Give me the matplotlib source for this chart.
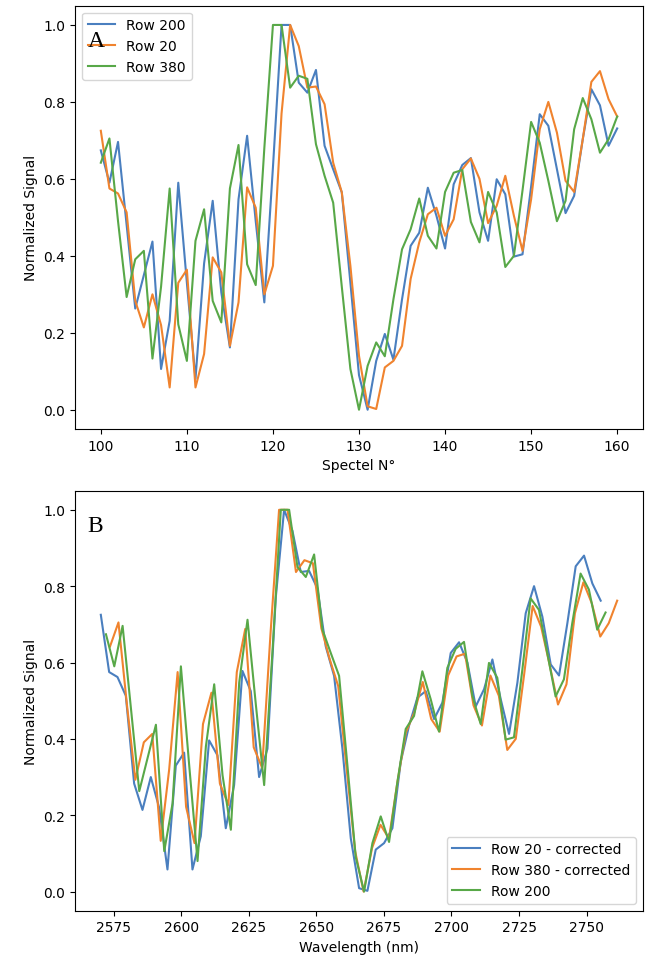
import matplotlib
matplotlib.use("Agg")
import matplotlib.pyplot as plt
import numpy as np

spectel = np.arange(100, 161)

# normalized signal per spectel (100..160)
row200 = [0.674, 0.59, 0.696, 0.48, 0.263, 0.35, 0.437, 0.106, 0.231, 0.59,
          0.33, 0.08, 0.38, 0.543, 0.305, 0.162, 0.547, 0.712, 0.49, 0.279,
          0.63, 1.0, 1.0, 0.85, 0.824, 0.883, 0.686, 0.625, 0.565, 0.33,
          0.09, 0.0, 0.127, 0.197, 0.13, 0.287, 0.426, 0.46, 0.577, 0.504,
          0.419, 0.586, 0.636, 0.654, 0.513, 0.439, 0.599, 0.56, 0.398, 0.404,
          0.58, 0.768, 0.738, 0.625, 0.511, 0.556, 0.703, 0.833, 0.791, 0.686,
          0.731]
row20 = [0.725, 0.575, 0.562, 0.513, 0.283, 0.214, 0.30, 0.22, 0.058, 0.33,
         0.364, 0.058, 0.145, 0.396, 0.357, 0.166, 0.279, 0.578, 0.525, 0.30,
         0.374, 0.77, 1.0, 0.945, 0.837, 0.84, 0.794, 0.642, 0.565, 0.374,
         0.14, 0.009, 0.002, 0.11, 0.127, 0.166, 0.34, 0.435, 0.508, 0.525,
         0.452, 0.495, 0.625, 0.653, 0.6, 0.485, 0.53, 0.608, 0.504, 0.413,
         0.547, 0.729, 0.80, 0.72, 0.595, 0.566, 0.703, 0.852, 0.88, 0.807,
         0.762]
row380 = [0.642, 0.705, 0.49, 0.293, 0.391, 0.413, 0.133, 0.32, 0.575, 0.222,
          0.127, 0.439, 0.521, 0.283, 0.227, 0.575, 0.688, 0.378, 0.324, 0.68,
          1.0, 1.0, 0.837, 0.868, 0.86, 0.69, 0.608, 0.538, 0.32, 0.106,
          0.0, 0.114, 0.175, 0.139, 0.287, 0.417, 0.469, 0.549, 0.452, 0.419,
          0.566, 0.616, 0.623, 0.488, 0.435, 0.566, 0.513, 0.371, 0.40, 0.57,
          0.748, 0.694, 0.595, 0.49, 0.543, 0.729, 0.81, 0.755, 0.668, 0.703,
          0.762]

# wavelength calibration of each row (first and last spectel, nm)
wl20 = (2570.3, 2755.2)
wl200 = (2572.2, 2757.0)
wl380 = (2573.7, 2761.3)

blue = "#4a7fbf"
orange = "#f0832e"
green = "#58a848"


def wavelengths(cal):
    return np.linspace(cal[0], cal[1], len(spectel))


fig = plt.figure(figsize=(6.47, 9.62), dpi=100)
ax1 = fig.add_axes([75 / 647, 1 - 430 / 962, 568 / 647, 423.3 / 962])
ax2 = fig.add_axes([75 / 647, 1 - 911.7 / 962, 568 / 647, 420 / 962])

ax1.plot(spectel, row200, color=blue, label="Row 200")
ax1.plot(spectel, row20, color=orange, label="Row 20")
ax1.plot(spectel, row380, color=green, label="Row 380")
ax1.set_xlabel("Spectel N°")
ax1.set_ylabel("Normalized Signal")
ax1.legend(loc="upper left")
ax1.text(0.022, 0.905, "A", transform=ax1.transAxes, fontsize=17,
         family="Liberation Serif", zorder=10)

ax2.plot(wavelengths(wl20), row20, color=blue, label="Row 20 - corrected")
ax2.plot(wavelengths(wl380), row380, color=orange, label="Row 380 - corrected")
ax2.plot(wavelengths(wl200), row200, color=green, label="Row 200")
ax2.set_xlabel("Wavelength (nm)")
ax2.set_ylabel("Normalized Signal")
ax2.legend(loc="lower right")
ax2.text(0.022, 0.905, "B", transform=ax2.transAxes, fontsize=17,
         family="Liberation Serif", zorder=10)

fig.savefig("out.png", dpi=100)
